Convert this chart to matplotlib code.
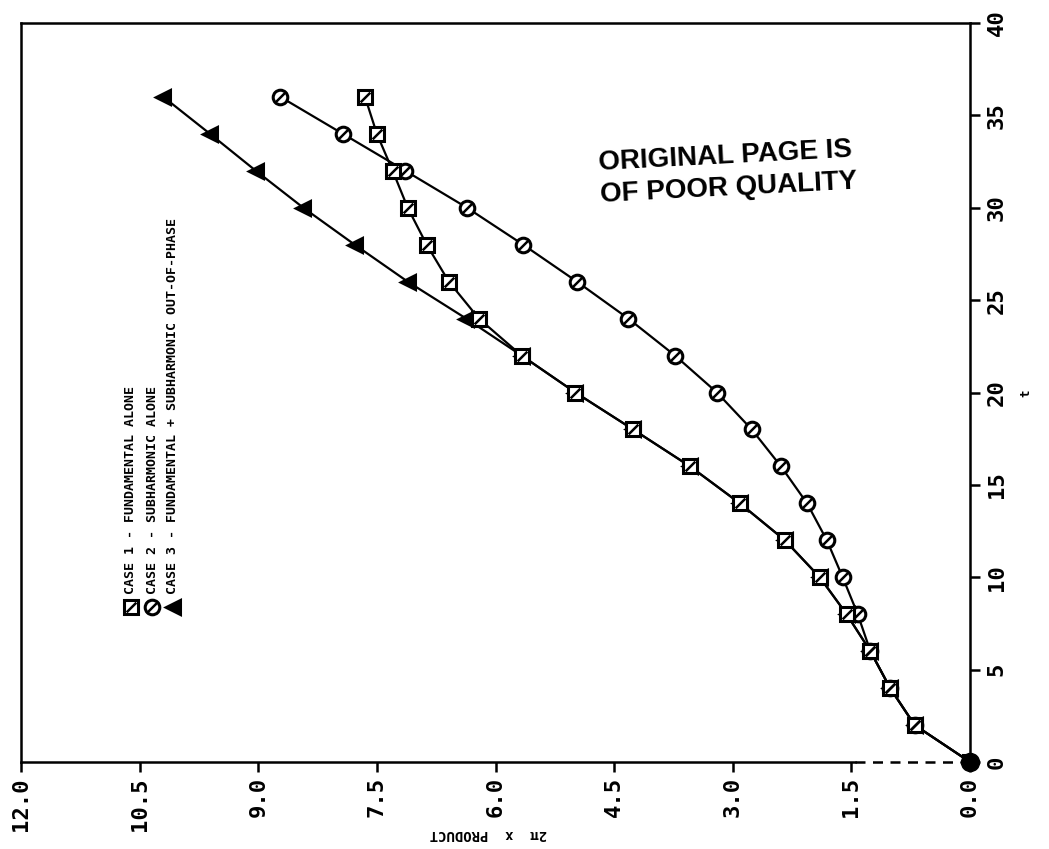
import numpy as np
import matplotlib
matplotlib.use("Agg")
import matplotlib.pyplot as plt
from matplotlib.path import Path

# time steps (t) and 2*pi x product for the three cases
t_vals = [0, 2, 4, 6, 8, 10, 12, 14, 16, 18, 20, 22, 24, 26, 28, 30, 32, 34, 36]
case1 = [0.0, 0.70, 1.01, 1.26, 1.56, 1.90, 2.34, 2.91, 3.54, 4.26, 4.99,
         5.67, 6.21, 6.59, 6.87, 7.11, 7.30, 7.50, 7.65]
case2 = [0.0, 0.70, 1.01, 1.26, 1.42, 1.61, 1.81, 2.06, 2.39, 2.76, 3.20,
         3.73, 4.32, 4.97, 5.65, 6.36, 7.14, 7.93, 8.72]
case3 = [0.0, 0.70, 1.01, 1.26, 1.56, 1.90, 2.34, 2.91, 3.54, 4.26, 4.99,
         5.67, 6.37, 7.11, 7.78, 8.43, 9.03, 9.61, 10.20]

prod_ticks = [0.0, 1.5, 3.0, 4.5, 6.0, 7.5, 9.0, 10.5, 12.0]
t_ticks = [0, 5, 10, 15, 20, 25, 30, 35, 40]
legend_labels = ["CASE 1 - FUNDAMENTAL ALONE",
                 "CASE 2 - SUBHARMONIC ALONE",
                 "CASE 3 - FUNDAMENTAL + SUBHARMONIC OUT-OF-PHASE"]

W, H = 1049, 849
fig = plt.figure(figsize=(W / 100, H / 100), dpi=100)
fig.patch.set_facecolor("white")

# page is turned sideways: product runs right-to-left, t runs upward
x0, x1, y0, y1 = 21, 970, 23, 762
ax = fig.add_axes([x0 / W, (H - y1) / H, (x1 - x0) / W, (y1 - y0) / H])
ax.set_xlim(12, 0)
ax.set_ylim(0, 40)

slash = Path([(-0.6, -0.6), (0.6, 0.6)], [Path.MOVETO, Path.LINETO])

def draw_case(vals, marker, filled, inner):
    ax.plot(vals, t_vals, color="black", lw=1.6, zorder=2)
    fc = "black" if filled else "white"
    ax.plot(vals, t_vals, ls="none", marker=marker, ms=10.5, mfc=fc,
            mec="black", mew=2.2, zorder=3)
    if inner:
        ax.plot(vals, t_vals, ls="none", marker=slash, ms=7, mfc="none",
                mec="black", mew=1.8, zorder=4)

draw_case(case3, "<", True, False)
draw_case(case2, "o", False, True)
draw_case(case1, "s", False, True)
ax.plot([0], [0], marker="o", ms=13, color="black", zorder=6, clip_on=False)

# frame
for side in ["top", "left", "right"]:
    ax.spines[side].set_linewidth(1.8)
ax.spines["bottom"].set_visible(False)
ax.plot([12, 1.45], [0, 0], color="black", lw=1.8, clip_on=False, zorder=1)
ax.plot([1.45, 0], [0, 0], color="black", lw=1.8, ls=(0, (4, 3)),
        clip_on=False, zorder=1)

tick_font = dict(family="DejaVu Sans Mono", weight="bold", size=16)
ax.set_xticks(prod_ticks)
ax.set_xticklabels([f"{v:.1f}" for v in prod_ticks], rotation=90,
                   va="top", ha="center", **tick_font)
ax.yaxis.tick_right()
ax.set_yticks(t_ticks)
ax.set_yticklabels([str(v) for v in t_ticks], rotation=90,
                   va="center", ha="left", **tick_font)
ax.tick_params(axis="x", direction="out", length=7, width=1.8, pad=4)
ax.tick_params(axis="y", direction="out", length=7, width=1.8, pad=5)
ax.tick_params(left=False)

# axis titles, turned with the page
fig.text(488 / W, 1 - 834 / H, "2π  x  PRODUCT", rotation=180,
         ha="center", va="center", family="DejaVu Sans Mono",
         weight="bold", size=10)
fig.text(1026 / W, 1 - 393 / H, "t", rotation=90, ha="center", va="center",
         family="DejaVu Sans Mono", weight="bold", size=9)

# key
key_cols = [131, 152, 173]
key_styles = [("s", "white", True), ("o", "white", True), ("<", "black", False)]
for px, label, (mk, fc, inner) in zip(key_cols, legend_labels, key_styles):
    xa = (x1 - px) / (x1 - x0) * 12
    ya = (y1 - 607) / (y1 - y0) * 40
    ax.plot([xa], [ya], ls="none", marker=mk, ms=10.5, mfc=fc,
            mec="black", mew=2.2, clip_on=False)
    if inner:
        ax.plot([xa], [ya], ls="none", marker=slash, ms=7, mfc="none",
                mec="black", mew=1.8)
    fig.text(px / W, 1 - 594 / H, label, rotation=90, ha="center",
             va="bottom", family="DejaVu Sans Mono", weight="bold", size=9.5)

# stamp
fig.text(728 / W, 1 - 172 / H, "ORIGINAL PAGE IS\nOF POOR QUALITY",
         rotation=3, ha="center", va="center", family="Liberation Sans",
         weight="bold", size=20, linespacing=1.3, multialignment="left")

fig.savefig("out.png", dpi=100, facecolor="white")
